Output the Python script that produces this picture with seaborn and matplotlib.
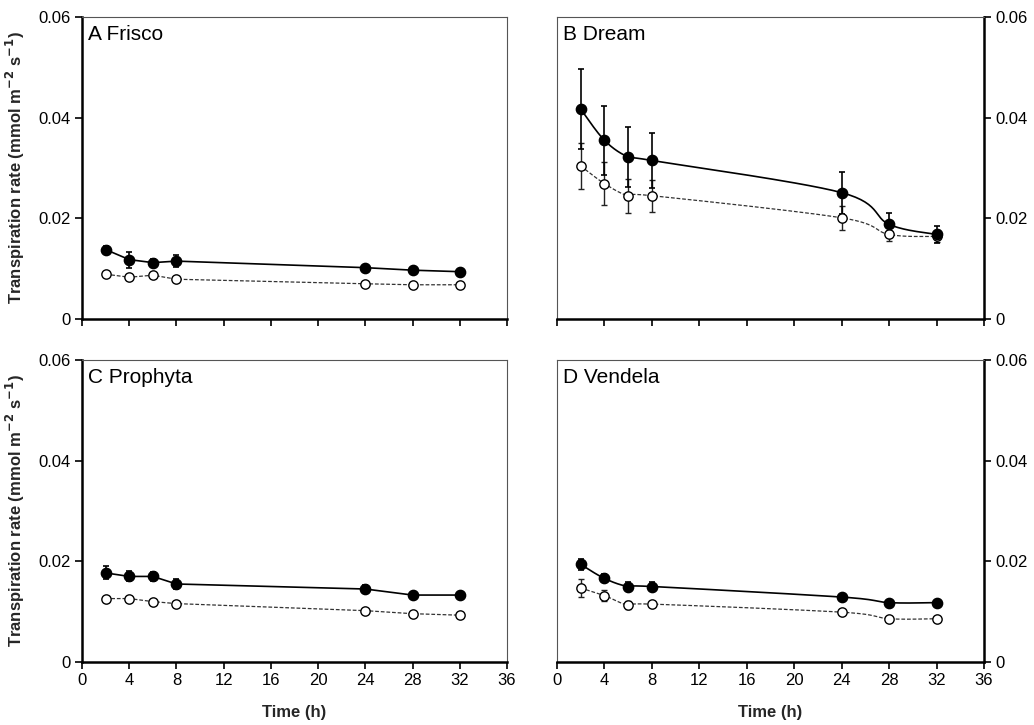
import numpy as np
import pandas as pd
import matplotlib
matplotlib.use("Agg")
import matplotlib.pyplot as plt
import seaborn as sns

sns.set_theme(style="white")
plt.rcParams['font.family'] = ['Liberation Sans', 'DejaVu Sans']

time_h = [2, 4, 6, 8, 24, 28, 32]
panels = ["A Frisco", "B Dream", "C Prophyta", "D Vendela"]

frisco_filled = [0.0138, 0.0118, 0.0112, 0.0115, 0.0102, 0.0097, 0.0094]
frisco_filled_err = [0.0008, 0.0016, 0.0008, 0.0012, 0.0006, 0.0005, 0.0004]
frisco_open = [0.0089, 0.0083, 0.0087, 0.0079, 0.0070, 0.0068, 0.0068]
frisco_open_err = [0.0003, 0.0003, 0.0003, 0.0003, 0.0003, 0.0003, 0.0003]

dream_filled = [0.0417, 0.0355, 0.0322, 0.0315, 0.0251, 0.0188, 0.0168]
dream_filled_err = [0.0079, 0.0069, 0.0060, 0.0055, 0.0042, 0.0022, 0.0017]
dream_open = [0.0304, 0.0269, 0.0245, 0.0245, 0.0201, 0.0168, 0.0164]
dream_open_err = [0.0046, 0.0042, 0.0034, 0.0032, 0.0024, 0.0014, 0.0012]

prophyta_filled = [0.0177, 0.0170, 0.0170, 0.0155, 0.0145, 0.0133, 0.0133]
prophyta_filled_err = [0.0013, 0.0010, 0.0009, 0.0010, 0.0007, 0.0006, 0.0005]
prophyta_open = [0.0126, 0.0126, 0.0120, 0.0116, 0.0102, 0.0096, 0.0093]
prophyta_open_err = [0.0006, 0.0005, 0.0005, 0.0006, 0.0004, 0.0004, 0.0004]

vendela_filled = [0.0194, 0.0166, 0.0150, 0.0150, 0.0129, 0.0118, 0.0118]
vendela_filled_err = [0.0011, 0.0008, 0.0009, 0.0008, 0.0004, 0.0004, 0.0004]
vendela_open = [0.0147, 0.0132, 0.0113, 0.0115, 0.0099, 0.0086, 0.0086]
vendela_open_err = [0.0017, 0.0011, 0.0008, 0.0005, 0.0004, 0.0004, 0.0004]

series = [
    (frisco_filled, frisco_filled_err, frisco_open, frisco_open_err, False),
    (dream_filled, dream_filled_err, dream_open, dream_open_err, True),
    (prophyta_filled, prophyta_filled_err, prophyta_open, prophyta_open_err, False),
    (vendela_filled, vendela_filled_err, vendela_open, vendela_open_err, True),
]

x_ticks = [0, 4, 8, 12, 16, 20, 24, 28, 32, 36]
y_ticks = [0, 0.02, 0.04, 0.06]
y_ticklabels = ["0", "0.02", "0.04", "0.06"]


def smooth_curve(x, y, n=30):
    # Excel-style smoothed line (cubic Bezier through the data points)
    x = np.asarray(x, float)
    y = np.asarray(y, float)
    P = np.column_stack([x, y])
    out = []
    m = len(P)
    for i in range(m - 1):
        p0 = P[i - 1] if i > 0 else P[i]
        p1 = P[i]
        p2 = P[i + 1]
        p3 = P[i + 2] if i + 2 < m else P[i + 1]
        c1 = p1 + (p2 - p0) / 6.0
        c2 = p2 - (p3 - p1) / 6.0
        t = np.linspace(0, 1, n)[:, None]
        seg = ((1 - t) ** 3) * p1 + 3 * ((1 - t) ** 2) * t * c1 + 3 * (1 - t) * t ** 2 * c2 + t ** 3 * p2
        out.append(seg if i == 0 else seg[1:])
    pts = np.vstack(out)
    return pts[:, 0], pts[:, 1]


fig = plt.figure(figsize=(10.34, 7.25), dpi=100)
W, H = 1034, 725
boxes = [
    (82, 507, 17, 319),
    (557, 984, 17, 319),
    (82, 507, 360, 662),
    (557, 984, 360, 662),
]

for k, (l, r, t, b) in enumerate(boxes):
    ax = fig.add_axes([l / W, 1 - b / H, (r - l) / W, (b - t) / H])
    f, fe, o, oe, smooth = series[k]
    right = k in (1, 3)
    bottom_row = k in (2, 3)

    if smooth:
        sx, sy = smooth_curve(time_h, f)
        ox, oy = smooth_curve(time_h, o)
    else:
        sx, sy = time_h, f
        ox, oy = time_h, o

    sns.lineplot(x=ox, y=oy, ax=ax, color="#333333", lw=0.9, sort=False,
                 linestyle=(0, (3, 1.5)), estimator=None, zorder=2)
    sns.lineplot(x=sx, y=sy, ax=ax, color="black", lw=1.2, sort=False,
                 estimator=None, zorder=3)

    ax.errorbar(time_h, o, yerr=oe, fmt="none", ecolor="#222222", elinewidth=1.0,
                capsize=2.5, capthick=1.0, zorder=2)
    ax.errorbar(time_h, f, yerr=fe, fmt="none", ecolor="black", elinewidth=1.2,
                capsize=2.5, capthick=1.2, zorder=3)

    df_o = pd.DataFrame({"t": time_h, "v": o})
    df_f = pd.DataFrame({"t": time_h, "v": f})
    sns.scatterplot(data=df_o, x="t", y="v", ax=ax, s=45, color="white",
                    edgecolor="black", linewidth=1.0, zorder=4)
    sns.scatterplot(data=df_f, x="t", y="v", ax=ax, s=55, color="black",
                    edgecolor="black", linewidth=1.0, zorder=5)

    ax.set_xlim(0, 36)
    ax.set_ylim(0, 0.06)
    ax.set_xticks(x_ticks)
    ax.set_yticks(y_ticks)
    ax.set_yticklabels(y_ticklabels)

    for s in ax.spines.values():
        s.set_visible(True)
        s.set_color("#555555")
        s.set_linewidth(0.8)
    ax.spines["bottom"].set_color("black")
    ax.spines["bottom"].set_linewidth(1.8)
    if right:
        ax.spines["right"].set_color("black")
        ax.spines["right"].set_linewidth(1.8)
        ax.yaxis.tick_right()
    else:
        ax.spines["left"].set_color("black")
        ax.spines["left"].set_linewidth(1.8)
        ax.yaxis.tick_left()

    ax.tick_params(axis="both", which="both", direction="out", length=5, width=1.2,
                   colors="black", labelsize=12, pad=3)
    if right:
        ax.tick_params(axis="y", left=False, right=True, labelright=True, labelleft=False)
    else:
        ax.tick_params(axis="y", left=True, right=False, labelleft=True, labelright=False)
    ax.tick_params(axis="x", bottom=True, top=False, labelbottom=bottom_row)

    if bottom_row:
        ax.set_xlabel("Time (h)", fontsize=12, fontweight="bold", labelpad=12)
    else:
        ax.set_xlabel("")
    if not right:
        ax.set_ylabel(r"Transpiration rate (mmol m$^{\mathbf{-2}}$ s$^{\mathbf{-1}}$)",
                      fontsize=12, fontweight="bold", labelpad=8)
    else:
        ax.set_ylabel("")

    ax.text(0.015, 0.975, panels[k], transform=ax.transAxes, fontsize=15,
            va="top", ha="left", color="black")
    ax.set_facecolor("white")

fig.savefig("out.png", dpi=100, facecolor="white")
